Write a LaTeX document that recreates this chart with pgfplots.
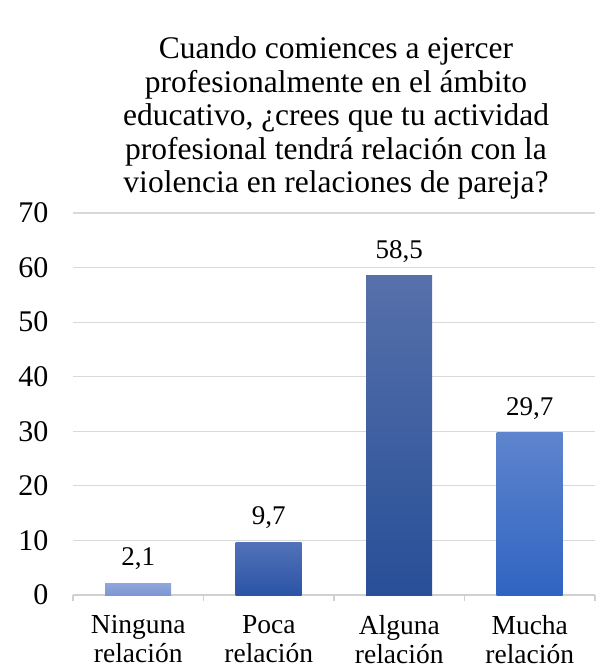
\documentclass[border=0pt]{standalone}
\usepackage{pgfplots}
\pgfplotsset{compat=1.18}
\usepackage{fontspec}
\setmainfont{Liberation Serif}
\definecolor{gridc}{HTML}{D9D9D9}
\definecolor{axc}{HTML}{D0D0D0}
\begin{document}
\begin{tikzpicture}
\useasboundingbox (-73pt,-75pt) rectangle (522pt,595pt);
\begin{axis}[
  at={(0pt,0pt)}, anchor=south west,
  scale only axis,
  width=522pt, height=382pt,
  xmin=-0.5, xmax=3.5,
  ymin=0, ymax=70,
  ytick={0,10,...,70},
  yticklabel={\fontsize{30}{30}\selectfont\pgfmathprintnumber{\tick}},
  xtick={0,1,2,3},
  xticklabels={{Ninguna\\relación},{Poca\\relación},{Alguna\\relación},{Mucha\\relación}},
  minor xtick={-0.5,0.5,1.5,2.5,3.5},
  ymajorgrids,
  grid style={draw=gridc, line width=1.2pt},
  axis x line*=bottom,
  axis y line*=left,
  y axis line style={draw=none},
  x axis line style={draw=axc, line width=1.2pt},
  major tick length=0pt,
  minor tick length=6pt,
  tick align=outside,
  minor tick style={draw=axc, line width=1.2pt},
  /pgf/number format/assume math mode=true,
  yticklabel style={xshift=-21pt},
  xticklabel style={align=center, font=\fontsize{27.5}{29}\selectfont, yshift=-17pt},
  ybar, bar width=66pt, bar shift=0pt,
  nodes near coords={\pgfmathprintnumber[fixed,fixed zerofill,precision=1,use comma]{\pgfplotspointmeta}},
  nodes near coords style={font=\fontsize{27}{28}\selectfont, text=black, yshift=10pt},
  title={Cuando comiences a ejercer\\profesionalmente en el ámbito\\educativo, ¿crees que tu actividad\\profesional tendrá relación con la\\violencia en relaciones de pareja?},
  title style={align=center, font=\fontsize{31.5}{33.5}\selectfont, at={(0.5,1)}, anchor=south, yshift=4pt, xshift=2pt},
  clip=false,
]
\addplot[draw=none, top color={rgb,255:red,143;green,166;blue,219}, bottom color={rgb,255:red,126;green,151;blue,211}] coordinates {(0,2.1)};
\addplot[draw=none, top color={rgb,255:red,82;green,114;blue,185}, bottom color={rgb,255:red,43;green,84;blue,165}] coordinates {(1,9.7)};
\addplot[draw=none, top color={rgb,255:red,86;green,112;blue,170}, bottom color={rgb,255:red,40;green,79;blue,152}] coordinates {(2,58.5)};
\addplot[draw=none, top color={rgb,255:red,94;green,132;blue,205}, bottom color={rgb,255:red,48;green,100;blue,194}] coordinates {(3,29.7)};
\end{axis}
\end{tikzpicture}
\end{document}
